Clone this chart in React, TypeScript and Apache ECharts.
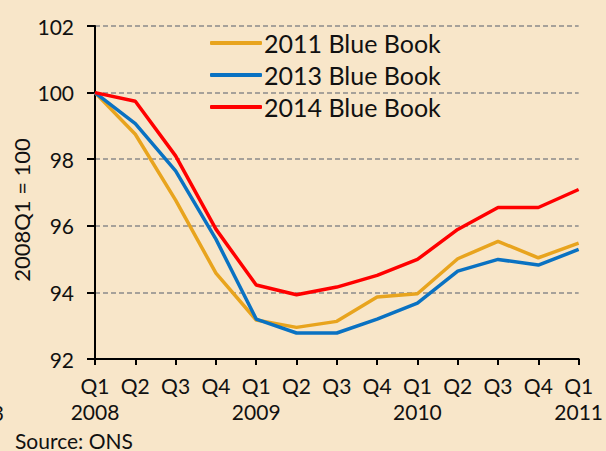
import React, { useEffect, useRef } from "react";
import * as echarts from "echarts";

const categories = [
  "Q1\n2008", "Q2", "Q3", "Q4",
  "Q1\n2009", "Q2", "Q3", "Q4",
  "Q1\n2010", "Q2", "Q3", "Q4",
  "Q1\n2011",
];
const bb2011 = [100, 98.75, 96.77, 94.58, 93.17, 92.95, 93.13, 93.86, 93.96, 95.01, 95.53, 95.04, 95.48];
const bb2013 = [100, 99.07, 97.65, 95.6, 93.2, 92.78, 92.78, 93.2, 93.68, 94.64, 94.99, 94.82, 95.29];
const bb2014 = [100, 99.74, 98.1, 95.9, 94.22, 93.93, 94.16, 94.51, 94.99, 95.89, 96.55, 96.55, 97.09];
const seriesNames = ["2011 Blue Book", "2013 Blue Book", "2014 Blue Book"];
const seriesColors = ["#e8a41e", "#0a72c2", "#ff0000"];
const yTitle = "2008Q1 = 100";
const sourceText = "Source: ONS";

const FONT = "Lato, 'Noto Sans', sans-serif";

export default function App() {
  const ref = useRef<HTMLDivElement>(null);
  useEffect(() => {
    document.body.style.margin = "0";
    if (!ref.current) return;
    const chart = echarts.init(ref.current, null, { renderer: "svg" });
    const data = [bb2011, bb2013, bb2014];
    chart.setOption({
      animation: false,
      backgroundColor: "#f8e6c9",
      textStyle: { fontFamily: FONT },
      grid: { left: 95, right: 25, top: 26, bottom: 92, containLabel: false },
      legend: {
        orient: "vertical",
        left: 205,
        top: 25,
        itemWidth: 52,
        itemHeight: 4,
        itemGap: 6,
        icon: "roundRect",
        textStyle: { fontSize: 25, color: "#111", fontFamily: FONT, lineHeight: 26, padding: [0, 0, 0, -3] },
        data: seriesNames.map((n, i) => ({
          name: n,
          itemStyle: { color: seriesColors[i] },
        })),
      },
      xAxis: {
        type: "category",
        data: categories,
        boundaryGap: false,
        axisLine: { lineStyle: { color: "#000", width: 2 } },
        axisTick: { show: true, length: 6, lineStyle: { color: "#000", width: 2 } },
        axisLabel: {
          color: "#111",
          fontSize: 21,
          fontFamily: FONT,
          lineHeight: 26,
          margin: 13,
          interval: 0,
        },
        splitLine: { show: false },
      },
      yAxis: {
        type: "value",
        min: 92,
        max: 102,
        interval: 2,
        axisLine: { show: true, lineStyle: { color: "#000", width: 2 } },
        axisTick: { show: true, length: 8, lineStyle: { color: "#000", width: 2 } },
        axisLabel: { color: "#111", fontSize: 21, fontFamily: FONT, margin: 21 },
        splitLine: {
          show: true,
          lineStyle: { color: "#8a8a8a", width: 1.5, type: [5, 3] },
        },
      },
      graphic: [
        {
          type: "text",
          x: 21,
          y: 210,
          rotation: Math.PI / 2,
          style: {
            text: yTitle,
            fontSize: 22,
            fontFamily: FONT,
            fill: "#111",
            align: "center",
            verticalAlign: "middle",
          },
        },
        {
          type: "text",
          x: 15,
          y: 440,
          style: {
            text: sourceText,
            fontSize: 21,
            fontFamily: FONT,
            fill: "#111",
            align: "left",
            verticalAlign: "middle",
          },
        },
        {
          type: "text",
          x: 4,
          y: 412,
          style: {
            text: "3",
            fontSize: 21,
            fontFamily: FONT,
            fill: "#111",
            align: "right",
            verticalAlign: "middle",
          },
        },
      ],
      series: seriesNames.map((n, i) => ({
        name: n,
        type: "line",
        data: data[i],
        symbol: "none",
        showSymbol: false,
        lineStyle: { color: seriesColors[i], width: 3.5 },
        itemStyle: { color: seriesColors[i] },
        z: 3 + i,
      })),
    });
    return () => chart.dispose();
  }, []);
  return <div ref={ref} style={{ width: 606, height: 451 }} />;
}
